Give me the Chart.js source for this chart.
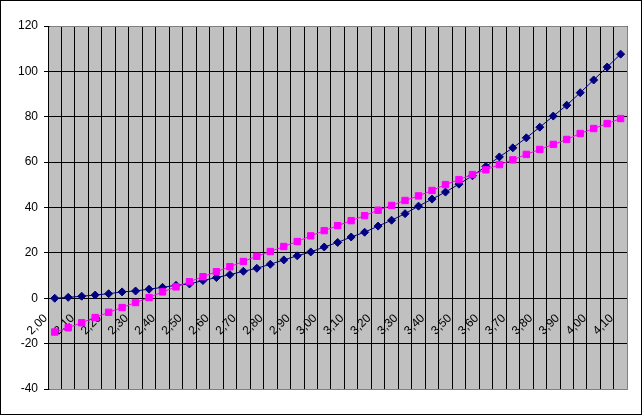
<!DOCTYPE html>
<html>
<head>
<meta charset="utf-8">
<script src="https://cdn.jsdelivr.net/npm/chart.js@4/dist/chart.umd.min.js"></script>
<style>
    body { margin: 0; background: #fff; }
    canvas { display: block; }
</style>
</head>
<body>
<canvas id="curveChart" width="644" height="416"></canvas>
<script>
// Category labels (Excel style decimal comma)
const xLabels = [
    '2,00', '2,05', '2,10', '2,15', '2,20', '2,25', '2,30', '2,35', '2,40', '2,45',
    '2,50', '2,55', '2,60', '2,65', '2,70', '2,75', '2,80', '2,85', '2,90', '2,95',
    '3,00', '3,05', '3,10', '3,15', '3,20', '3,25', '3,30', '3,35', '3,40', '3,45',
    '3,50', '3,55', '3,60', '3,65', '3,70', '3,75', '3,80', '3,85', '3,90', '3,95',
    '4,00', '4,05', '4,10'
];

// Navy diamonds
const blueValues = [
    0, 0.4, 0.9, 1.4, 2.0, 2.8, 3.2, 4.0, 4.8, 5.7,
    6.3, 7.8, 9.1, 10.4, 11.9, 13.2, 15.0, 16.9, 18.7, 20.4,
    22.6, 24.6, 27.0, 29.1, 31.8, 34.4, 37.3, 40.6, 43.7, 46.8,
    50.3, 54.0, 58.1, 62.3, 66.3, 70.7, 75.4, 80.3, 85.1, 90.6,
    96.2, 101.9, 107.6
];

// Magenta squares
const pinkValues = [
    -14.9, -13.0, -10.8, -8.5, -6.2, -4.1, -1.9, 0.3, 2.8, 5.0,
    7.3, 9.5, 11.7, 13.9, 16.2, 18.5, 20.6, 22.8, 25.0, 27.5,
    29.8, 32.0, 34.2, 36.4, 38.8, 40.9, 43.1, 45.1, 47.5, 50.1,
    52.3, 54.5, 56.6, 58.9, 61.0, 63.4, 65.6, 67.8, 70.0, 72.6,
    74.8, 77.0, 79.2
];

const yMin = -40;
const yMax = 120;
const yStep = 20;

// White page, gray plot area, gray frame and black outer border
const excelFrame = {
    id: 'excelFrame',
    beforeDraw(chart) {
        const { ctx, chartArea: a } = chart;
        ctx.save();
        ctx.fillStyle = '#fff';
        ctx.fillRect(0, 0, chart.width, chart.height);
        ctx.fillStyle = '#c0c0c0';
        ctx.fillRect(a.left, a.top, a.right - a.left, a.bottom - a.top);
        ctx.restore();
    },
    afterDraw(chart) {
        const { ctx, chartArea: a } = chart;
        const l = Math.round(a.left) + 0.5;
        const r = Math.round(a.right) + 0.5;
        const t = Math.round(a.top) + 0.5;
        const b = Math.round(a.bottom) + 0.5;
        ctx.save();
        ctx.lineWidth = 1;
        ctx.strokeStyle = '#808080';
        ctx.beginPath();
        ctx.moveTo(l + 1, t);
        ctx.lineTo(r, t);
        ctx.lineTo(r, b);
        ctx.lineTo(l + 1, b);
        ctx.stroke();
        ctx.strokeStyle = '#000';
        ctx.strokeRect(0.5, 0.5, 641, 414);
        ctx.restore();
    }
};

function initChart() {
    const ctx = document.getElementById('curveChart').getContext('2d');
    return new Chart(ctx, {
        type: 'line',
        data: {
            labels: xLabels,
            datasets: [{
                label: 'Serie 1',
                data: blueValues,
                borderColor: '#000080',
                backgroundColor: '#000080',
                borderWidth: 1,
                pointStyle: 'rectRot',
                pointRadius: 4,
                pointBorderWidth: 1,
                tension: 0,
                order: 1
            }, {
                label: 'Serie 2',
                data: pinkValues,
                borderColor: '#ff00ff',
                backgroundColor: '#ff00ff',
                borderWidth: 1,
                pointStyle: 'rect',
                pointRadius: 4.5,
                pointBorderWidth: 1,
                tension: 0,
                order: 0
            }]
        },
        options: {
            responsive: false,
            animation: false,
            layout: {
                padding: { left: 0, right: 16, top: 26, bottom: 27 }
            },
            plugins: {
                legend: { display: false },
                tooltip: { enabled: false }
            },
            scales: {
                x: {
                    type: 'category',
                    position: { y: 0 },
                    offset: true,
                    afterFit(scale) {
                        scale.height = 0;
                    },
                    grid: {
                        offset: true,
                        color: '#000',
                        lineWidth: 1,
                        drawTicks: false
                    },
                    border: { color: '#000', width: 1 },
                    ticks: {
                        autoSkip: false,
                        minRotation: 45,
                        maxRotation: 45,
                        padding: 13,
                        labelOffset: -9,
                        color: '#000',
                        font: { family: 'Liberation Sans', size: 12 },
                        callback: (value, index) => index % 2 === 0 ? xLabels[index] : ''
                    }
                },
                y: {
                    min: yMin,
                    max: yMax,
                    afterFit(scale) {
                        scale.width = 48;
                    },
                    grid: {
                        color: '#000',
                        lineWidth: 1,
                        drawTicks: true,
                        tickLength: 4,
                        tickColor: '#000'
                    },
                    border: { color: '#000', width: 1 },
                    ticks: {
                        stepSize: yStep,
                        padding: 6,
                        color: '#000',
                        font: { family: 'Liberation Sans', size: 12 }
                    }
                }
            }
        },
        plugins: [excelFrame]
    });
}

document.addEventListener('DOMContentLoaded', () => {
    initChart();
});
</script>
</body>
</html>
